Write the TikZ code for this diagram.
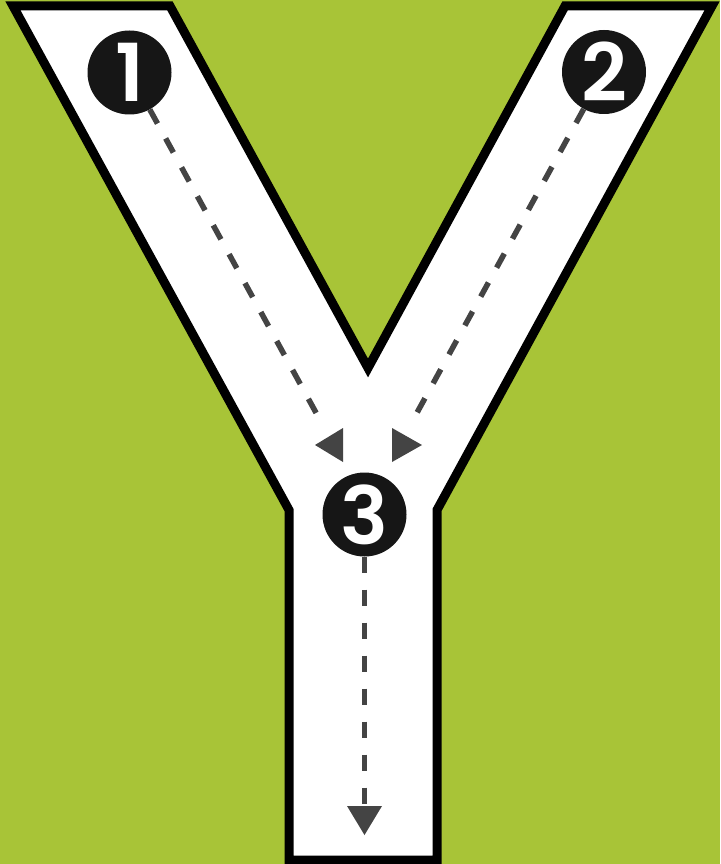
\documentclass[tikz,border=0pt]{standalone}
\usepackage{fontspec}
\newfontfamily\digitfont{Poppins SemiBold}
\definecolor{bggreen}{HTML}{A8C437}
\definecolor{dashgray}{HTML}{444444}
\definecolor{discblack}{HTML}{161616}
\tikzset{
  ybody/.style={draw=black, fill=white, line width=9pt, line join=miter},
  disc/.style={circle, fill=discblack, minimum size=84pt, inner sep=0pt, text=white, font=\digitfont\fontsize{80}{80}\selectfont},
  guide/.style={draw=dashgray, line width=5.5pt, dash pattern=on 16pt off 17pt},
  tip/.style={fill=dashgray}
}
\begin{document}
\begin{tikzpicture}[x=1pt, y=-1pt]
  \fill[bggreen] (0,0) rectangle (720,864);
  \useasboundingbox (0,0) rectangle (720,864);
  % Y letter
  \draw[ybody] (13,6) -- (170,6) -- (368,368) -- (565,6) -- (712,6)
        -- (437,510) -- (437,860) -- (289,860) -- (289,510) -- cycle;
  % end points of the guides
  \coordinate (e1) at (320,420);
  \coordinate (e2) at (413,420);
  \coordinate (e3) at (364.5,806);
  % discs
  \node[disc] (c1) at (129.5,72.5) {1};
  \node[disc] (c2) at (604,72) {2};
  \node[disc] (c3) at (364.5,514.5) {3};
  % dashed guides
  \draw[guide] (c1) -- (e1);
  \draw[guide] (c2) -- (e2);
  \draw[guide] (c3) -- (e3);
  % arrow heads
  \fill[tip] (315,445) -- (343,428) -- (343,462) -- cycle;
  \fill[tip] (422,445) -- (392,428) -- (392,462) -- cycle;
  \fill[tip] (364.5,835) -- (347,806) -- (382,806) -- cycle;
\end{tikzpicture}
\end{document}
